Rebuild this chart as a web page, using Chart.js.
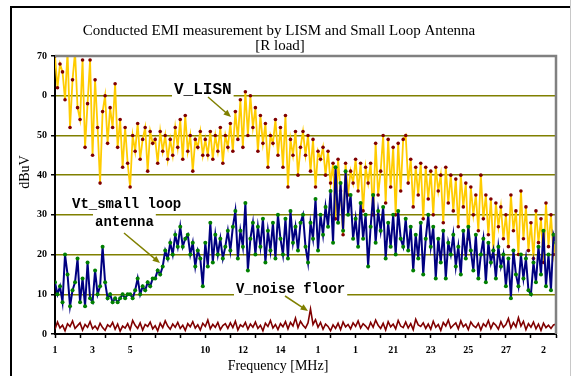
<!DOCTYPE html>
<html>
<head>
<meta charset="utf-8">
<script src="https://cdn.jsdelivr.net/npm/chart.js@4.4.1/dist/chart.umd.min.js"></script>
<style>
  html, body { margin: 0; padding: 0; background: #fff; }
  canvas { display: block; }
</style>
</head>
<body>
<canvas id="emiChart" width="571" height="376"></canvas>
<script>
// x tick labels as they appear on the original (truncated by the source program)
const xLabelPos = [0, 1.5, 3, 6, 7.5, 9, 10.5, 12, 13.5, 15, 16.5, 18, 19.5];
const xLabelText = ['1', '3', '5', '10', '12', '14', '1', '1', '21', '23', '25', '27', '2'];
const yTickText = ['0', '10', '20', '30', '40', '50', '0', '70'];

// V_LISN (dBuV), 201 samples
const vLisn = [
  70, 62, 68, 66, 59, 71, 52, 64, 71, 57,
  54, 69, 47, 58, 69, 45, 64, 52, 38, 56,
  60, 48, 57, 52, 63, 47, 54, 42, 52, 43,
  37, 50, 46, 53, 44, 49, 52, 41, 51, 48,
  49, 43, 51, 46, 50, 44, 49, 45, 52, 47,
  54, 44, 55, 46, 50, 41, 49, 47, 51, 45,
  49, 45, 51, 44, 50, 46, 52, 43, 50, 47,
  53, 46, 56, 49, 59, 47, 61, 50, 60, 52,
  57, 46, 55, 48, 53, 42, 50, 48, 54, 45,
  52, 42, 55, 37, 49, 45, 51, 40, 47, 51,
  45, 50, 41, 49, 37, 46, 44, 47, 40, 46,
  38, 43, 29, 44, 36, 25, 43, 35, 41, 38,
  44, 36, 43, 31, 42, 38, 43, 30, 48, 35,
  41, 50, 33, 49, 37, 47, 30, 48, 36, 49,
  50, 38, 44, 32, 42, 35, 43, 29, 42, 34,
  41, 30, 42, 36, 40, 28, 42, 33, 40, 31,
  39, 27, 40, 32, 38, 24, 37, 30, 35, 26,
  40, 29, 35, 25, 34, 21, 33, 27, 32, 24,
  30, 22, 35, 26, 31, 20, 36, 24, 32, 21,
  28, 19, 31, 23, 29, 18, 33, 22, 30, 20, 24
];

// Vt_small loop antenna (dBuV)
const vLoop = [
  13, 10, 12, 8, 20, 15, 7, 11, 13, 19,
  8, 14, 7, 18, 9, 8, 16, 10, 12, 22,
  13, 9, 10, 8, 9, 8, 9, 10, 9, 10,
  10, 9, 11, 14, 10, 12, 11, 13, 12, 14,
  14, 16, 15, 17, 21, 19, 23, 20, 25, 22,
  27, 22, 24, 25, 20, 23, 17, 21, 19, 12,
  23, 17, 28, 18, 25, 20, 24, 19, 22, 26,
  21, 27, 31, 19, 26, 22, 33, 16, 24, 28,
  20, 27, 22, 29, 18, 26, 21, 28, 19, 30,
  24, 20, 29, 19, 31, 23, 27, 21, 28, 30,
  22, 18, 28, 24, 34, 21, 30, 25, 32, 27,
  36, 23, 42, 28, 38, 26, 41, 30, 35, 24,
  29, 22, 33, 24, 30, 17, 27, 35, 23, 31,
  26, 32, 19, 28, 22, 30, 20, 31, 24, 22,
  29, 21, 27, 16, 25, 19, 28, 15, 24, 30,
  22, 27, 14, 24, 18, 26, 14, 23, 20, 25,
  17, 22, 15, 26, 19, 27, 21, 16, 25, 14,
  20, 24, 13, 23, 18, 21, 14, 22, 17, 20,
  12, 19, 9, 21, 15, 12, 20, 14, 19, 11,
  10, 18, 13, 22, 15, 26, 12, 20, 11, 25, 23
];

// V_noise floor (dBuV)
const vNoise = [
  1.2, 3.0, 1.5, 2.2, 0.8, 2.6, 1.9, 3.3, 1.4, 2.1,
  2.8, 1.0, 2.4, 1.7, 3.1, 1.3, 2.0, 1.1, 2.7, 1.6,
  0.9, 2.3, 1.8, 2.9, 1.2, 2.5, 0.7, 2.0, 1.5, 2.6,
  1.1, 3.4, 2.2, 1.4, 2.8, 1.0, 2.4, 1.9, 3.0, 1.3,
  2.1, 0.8, 2.7, 1.6, 3.3, 2.0, 1.2, 2.5, 1.7, 2.9,
  1.4, 2.2, 0.9, 2.6, 1.8, 3.1, 1.5, 2.3, 1.0, 2.7,
  1.9, 3.5, 1.3, 2.4, 1.7, 2.9, 1.1, 2.1, 2.6, 1.4,
  2.8, 1.6, 3.2, 1.0, 2.3, 1.8, 2.9, 1.2, 2.5, 1.7,
  3.0, 1.4, 2.2, 0.8, 2.7, 1.9, 3.4, 1.5, 2.4, 1.1,
  2.6, 1.8, 3.1, 1.3, 2.9, 2.0, 4.0, 1.6, 3.2, 2.2,
  1.5, 2.8, 6.3, 2.4, 3.6, 1.7, 2.9, 1.2, 2.5, 1.9,
  0.8, 2.3, 1.4, 2.7, 1.1, 3.0, 1.8, 2.4, 1.3, 2.8,
  1.9, 3.3, 1.5, 2.6, 2.0, 1.2, 2.9, 1.7, 3.5, 2.2,
  1.4, 2.7, 1.0, 3.1, 1.8, 2.5, 1.3, 3.4, 2.0, 1.6,
  3.0, 1.5, 2.6, 1.1, 3.7, 2.3, 1.9, 2.8, 1.4, 2.5,
  1.2, 3.2, 1.7, 2.4, 0.9, 2.9, 2.0, 3.5, 1.5, 2.2,
  2.8, 1.3, 3.3, 1.8, 2.5, 1.1, 3.0, 2.1, 1.6, 2.7,
  1.0, 2.6, 1.9, 3.4, 1.4, 2.8, 2.2, 1.2, 3.1, 1.7,
  2.4, 3.9, 1.5, 2.9, 1.8, 4.1, 2.0, 3.2, 1.1, 2.6,
  1.7, 3.0, 1.3, 2.5, 0.9, 2.7, 1.6, 2.2, 1.4, 2.3, 2.5
];

// samples are evenly spaced over the 20 tick intervals of the frequency axis
const toPoints = arr => arr.map((v, i) => ({ x: i * 20 / (arr.length - 1), y: v }));

const olive = '#808000';

function arrow(ctx, x1, y1, x2, y2) {
  const a = Math.atan2(y2 - y1, x2 - x1);
  ctx.strokeStyle = olive;
  ctx.fillStyle = olive;
  ctx.lineWidth = 1.5;
  ctx.beginPath();
  ctx.moveTo(x1, y1);
  ctx.lineTo(x2 - 5 * Math.cos(a), y2 - 5 * Math.sin(a));
  ctx.stroke();
  ctx.beginPath();
  ctx.moveTo(x2, y2);
  ctx.lineTo(x2 - 8 * Math.cos(a - 0.4), y2 - 8 * Math.sin(a - 0.4));
  ctx.lineTo(x2 - 8 * Math.cos(a + 0.4), y2 - 8 * Math.sin(a + 0.4));
  ctx.closePath();
  ctx.fill();
}

function boxedText(ctx, text, x, y, font) {
  ctx.font = font;
  const w = ctx.measureText(text).width;
  ctx.fillStyle = '#fff';
  ctx.fillRect(x - 2, y - 8, w + 4, 16);
  ctx.fillStyle = '#000';
  ctx.textAlign = 'left';
  ctx.textBaseline = 'middle';
  ctx.fillText(text, x, y);
}

const decorations = {
  id: 'decorations',
  beforeDraw(chart) {
    const ctx = chart.ctx;
    ctx.save();
    ctx.fillStyle = '#fff';
    ctx.fillRect(0, 0, chart.width, chart.height);
    ctx.restore();
  },
  afterDatasetsDraw(chart) {
    const ctx = chart.ctx;
    const a = chart.chartArea;
    ctx.save();
    // grey plot-area frame (top and right)
    ctx.strokeStyle = '#808080';
    ctx.lineWidth = 2.5;
    ctx.beginPath();
    ctx.moveTo(a.left, a.top);
    ctx.lineTo(a.right, a.top);
    ctx.lineTo(a.right, a.bottom);
    ctx.stroke();

    const mono = 'bold 14px "Liberation Mono"';
    boxedText(ctx, 'V_LISN', 174, 90, 'bold 16px "Liberation Mono"');
    arrow(ctx, 208, 97, 231, 117);
    boxedText(ctx, 'Vt_small loop', 72, 204, mono);
    boxedText(ctx, 'antenna', 95, 222, mono);
    arrow(ctx, 124, 233, 160, 263);
    boxedText(ctx, 'V_noise floor', 236, 289, mono);
    arrow(ctx, 285, 296, 308, 311);
    ctx.restore();
  },
  afterDraw(chart) {
    const ctx = chart.ctx;
    ctx.save();
    // outer chart frame
    ctx.strokeStyle = '#000';
    ctx.lineWidth = 2;
    ctx.strokeRect(11, 7, 700, 500);
    ctx.strokeStyle = '#c8c8c8';
    ctx.lineWidth = 1;
    ctx.beginPath();
    ctx.moveTo(570.5, 0);
    ctx.lineTo(570.5, chart.height);
    ctx.stroke();

    ctx.fillStyle = '#000';
    ctx.textAlign = 'center';
    ctx.textBaseline = 'middle';
    ctx.font = '15px "Liberation Serif"';
    ctx.fillText('Conducted EMI measurement by LISM and Small Loop Antenna', 279, 31);
    ctx.fillText('[R load]', 280, 46);
    ctx.font = '14px "Liberation Serif"';
    ctx.fillText('Frequency [MHz]', 278, 366);
    ctx.translate(25, 172);
    ctx.rotate(-Math.PI / 2);
    ctx.fillText('dBuV', 0, 0);
    ctx.restore();
  }
};

const tickFont = { family: 'Liberation Serif', weight: 'bold', size: 10 };

new Chart(document.getElementById('emiChart').getContext('2d'), {
  type: 'line',
  data: {
    datasets: [
      {
        label: 'Vt_small loop antenna',
        data: toPoints(vLoop),
        borderColor: '#000080',
        borderWidth: 2,
        pointRadius: 2,
        pointBackgroundColor: '#008000',
        pointBorderWidth: 0,
        tension: 0
      },
      {
        label: 'V_LISN',
        data: toPoints(vLisn),
        borderColor: '#ffcc00',
        borderWidth: 1.8,
        pointRadius: 1.8,
        pointBackgroundColor: '#800000',
        pointBorderWidth: 0,
        tension: 0
      },
      {
        label: 'V_noise floor',
        data: toPoints(vNoise),
        borderColor: '#800000',
        borderWidth: 1.6,
        pointRadius: 0,
        tension: 0
      }
    ]
  },
  options: {
    responsive: false,
    animation: false,
    layout: { padding: { top: 56, right: 15, left: 0, bottom: 0 } },
    plugins: {
      legend: { display: false },
      title: { display: false },
      tooltip: { enabled: false }
    },
    scales: {
      x: {
        type: 'linear',
        min: 0,
        max: 20,
        afterBuildTicks: axis => {
          const t = [];
          for (let k = 0; k <= 40; k++) t.push({ value: k / 2 });
          axis.ticks = t;
        },
        afterFit: s => { s.height = 42; },
        ticks: {
          autoSkip: false,
          maxRotation: 0,
          padding: 6,
          color: '#000',
          font: tickFont,
          callback: v => {
            const i = xLabelPos.indexOf(v);
            return i >= 0 ? xLabelText[i] : '';
          }
        },
        grid: {
          drawOnChartArea: false,
          tickLength: 4,
          tickWidth: 1.5,
          tickColor: c => (c.tick && c.tick.value % 1 === 0) ? '#000' : 'rgba(0,0,0,0)'
        },
        border: { color: '#000', width: 2 }
      },
      y: {
        min: 0,
        max: 70,
        afterFit: s => { s.width = 55; },
        ticks: {
          stepSize: 10,
          padding: 4,
          color: '#000',
          font: tickFont,
          callback: v => yTickText[Math.round(v / 10)]
        },
        grid: {
          color: c => (c.tick && (c.tick.value === 0 || c.tick.value === 70)) ? 'rgba(0,0,0,0)' : olive,
          lineWidth: 1.5,
          tickLength: 4,
          tickWidth: 1.5,
          tickColor: '#000'
        },
        border: { color: '#000', width: 2 }
      }
    }
  },
  plugins: [decorations]
});
</script>
</body>
</html>
